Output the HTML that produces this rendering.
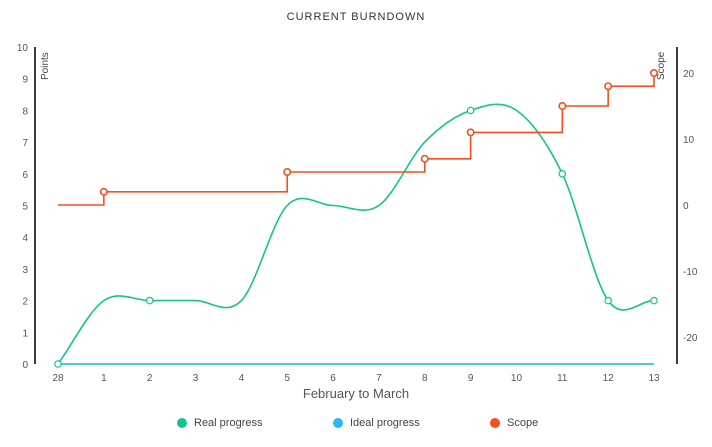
<!DOCTYPE html>
<html><head><meta charset="utf-8"><style>
body{margin:0;background:#fff;font-family:"Liberation Sans",sans-serif}
svg text{font-family:"Liberation Sans",sans-serif}
</style></head><body>
<svg id="c" width="712" height="442">
<text x="356" y="20" text-anchor="middle" font-size="11" letter-spacing="1" fill="#333">CURRENT BURNDOWN</text>
<line x1="35" y1="47" x2="35" y2="364" stroke="#3a3a3a" stroke-width="2"/>
<line x1="677" y1="47" x2="677" y2="364" stroke="#3a3a3a" stroke-width="2"/>
<text transform="translate(48,80) rotate(-90)" font-size="10" fill="#444">Points</text>
<text transform="translate(664,80) rotate(-90)" font-size="10" fill="#444">Scope</text>
<text x="356" y="398" text-anchor="middle" font-size="13" fill="#555">February to March</text>
<g id="ticks"></g><g id="marks"></g>
<g>
<g><circle cx="182" cy="423" r="5" fill="#14c38e"/><text x="194" y="426" font-size="11" fill="#444">Real progress</text></g>
<g><circle cx="338" cy="423" r="5" fill="#29b6f6"/><text x="350" y="426" font-size="11" fill="#444">Ideal progress</text></g>
<g><circle cx="495" cy="423" r="5" fill="#f4511e"/><text x="507" y="426" font-size="11" fill="#444">Scope</text></g>
</g>
</svg>
<script>
const categories=["28","1","2","3","4","5","6","7","8","9","10","11","12","13"];
const realValues=[0,2,2,2,2,5,5,5,7,8,8,6,2,2];
const realMarkers=[0,2,9,11,12,13];
const idealValues=[0,0,0,0,0,0,0,0,0,0,0,0,0,0];
const scopeValues=[0,2,2,2,2,5,5,5,7,11,11,15,18,20];
const leftTicks=[0,1,2,3,4,5,6,7,8,9,10];
const rightTicks=[-20,-10,0,10,20];
const NS="http://www.w3.org/2000/svg";
const x=i=>58+i*(654-58)/(categories.length-1);
const yL=v=>364-v*(364-47)/10;
const yR=v=>205-v*6.6;
function mk(t,a,p){const e=document.createElementNS(NS,t);for(const k in a)e.setAttribute(k,a[k]);(p||document.getElementById('marks')).appendChild(e);return e;}
const tg=document.getElementById('ticks');
leftTicks.forEach(v=>{const t=mk('text',{x:28,y:yL(v)+4,'text-anchor':'end','font-size':10,fill:'#555'},tg);t.textContent=v;

});
rightTicks.forEach(v=>{const t=mk('text',{x:683,y:yR(v)+4,'font-size':10,fill:'#555'},tg);t.textContent=v;

});
categories.forEach((c,i)=>{const t=mk('text',{x:x(i),y:381,'text-anchor':'middle','font-size':10,fill:'#555'},tg);t.textContent=c;

});
const il=mk('polyline',{points:idealValues.map((v,i)=>x(i)+','+yL(v)).join(' '),fill:'none',stroke:'#4fc3f7','stroke-width':2});


// Catmull-Rom
const n=realValues.length;
const tan=i=>i==0?realValues[1]-realValues[0]:i==n-1?realValues[n-1]-realValues[n-2]:(realValues[i+1]-realValues[i-1])/2;
let pd='M'+x(0)+','+yL(realValues[0]);
for(let i=0;i<n-1;i++){const p0=realValues[i],p1=realValues[i+1];
pd+='C'+x(i+1/3).toFixed(1)+','+yL(p0+tan(i)/3).toFixed(1)+' '+x(i+2/3).toFixed(1)+','+yL(p1-tan(i+1)/3).toFixed(1)+' '+x(i+1).toFixed(1)+','+yL(p1).toFixed(1);}
const rl=mk('path',{d:pd,fill:'none',stroke:'#14c38e','stroke-width':1.6});


realMarkers.forEach(i=>{const c=mk('circle',{cx:x(i),cy:yL(realValues[i]),r:3.2,fill:'#fff',stroke:'#14c38e','stroke-width':1.2});

});
let sp='M'+x(0)+','+yR(scopeValues[0]);
for(let i=1;i<scopeValues.length;i++){sp+='L'+x(i)+','+yR(scopeValues[i-1])+'L'+x(i)+','+yR(scopeValues[i]);}
const sl=mk('path',{d:sp,fill:'none',stroke:'#f4511e','stroke-width':1.6});


for(let i=1;i<scopeValues.length;i++){if(scopeValues[i]!==scopeValues[i-1]){const c=mk('circle',{cx:x(i),cy:yR(scopeValues[i]),r:3.2,fill:'#fff',stroke:'#f4511e','stroke-width':1.6});

}}
</script>
</body></html>
